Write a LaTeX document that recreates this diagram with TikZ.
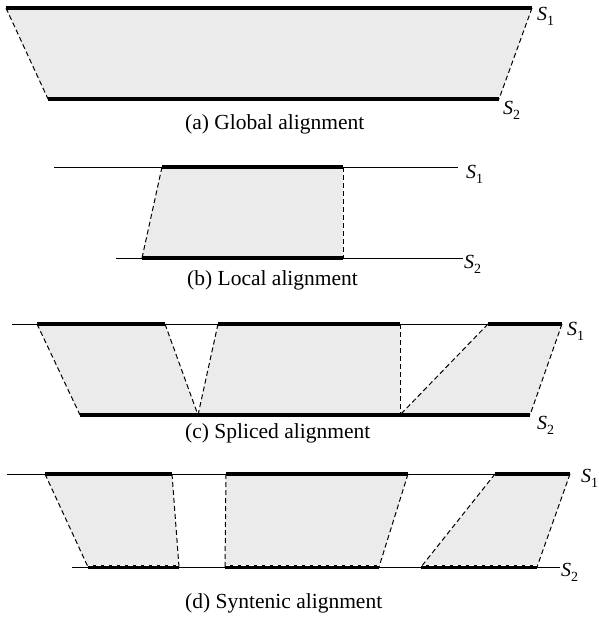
\documentclass[tikz,border=0pt]{standalone}
\usepackage{fontspec}
\setmainfont{Liberation Serif}
\usetikzlibrary{calc}
\definecolor{regiongray}{HTML}{EBEBEB}
\tikzset{
  seqthin/.style={line width=0.9pt},
  seqthick/.style={line width=3.8pt},
  gapline/.style={dash pattern=on 5pt off 3pt, line width=1pt},
  region/.style={fill=regiongray},
  wdash/.style={white, dash pattern=on 5pt off 3pt, line width=0.6pt},
  seqlab/.style={font=\fontsize{20}{22}\selectfont, anchor=west, inner sep=0pt},
  captext/.style={font=\fontsize{21.5}{24}\selectfont, anchor=west, inner sep=0pt},
}
\newcommand{\seqname}[1]{\textit{S}\raisebox{-0.25em}{\fontsize{14}{16}\selectfont #1}}
\begin{document}
\begin{tikzpicture}[x=1pt,y=-1pt]
\useasboundingbox (0,0) rectangle (598,619);

% ---------- (a) Global ----------
\coordinate (a1) at (6,8);   \coordinate (a2) at (532,8);
\coordinate (a3) at (499,99); \coordinate (a4) at (48,99);
\fill[region] (a1) -- (a2) -- (a3) -- (a4) -- cycle;
\draw[seqthick] (a1) -- (a2);
\draw[seqthick] (a4) -- (a3);
\draw[gapline] (a1) -- (a4);
\draw[gapline] (a2) -- (a3);
\node[seqlab] (aS1) at (537,16) {\seqname{1}};
\node[seqlab] (aS2) at (503,110) {\seqname{2}};
\node[captext] (capa) at (185,124) {(a) Global alignment};

% ---------- (b) Local ----------
\coordinate (b1) at (162,167); \coordinate (b2) at (343,167);
\coordinate (b3) at (343,258); \coordinate (b4) at (142,258);
\coordinate (bT0) at (54,167);  \coordinate (bT1) at (458,167);
\coordinate (bB0) at (116,258); \coordinate (bB1) at (463,258);
\fill[region] (b1) -- (b2) -- (b3) -- (b4) -- cycle;
\draw[seqthin] (bT0) -- (bT1);
\draw[seqthin] (bB0) -- (bB1);
\draw[seqthick] (b1) -- (b2);
\draw[seqthick] (b4) -- (b3);
\draw[gapline] (b1) -- (b4);
\draw[gapline] (b2) -- (b3);
\node[seqlab] (bS1) at (466,174) {\seqname{1}};
\node[seqlab] (bS2) at (464,264) {\seqname{2}};
\node[captext] (capb) at (187,280) {(b) Local alignment};

% ---------- (c) Spliced ----------
\coordinate (cT0) at (12,324);
\coordinate (c1) at (37,324);  \coordinate (c2) at (165,324);
\coordinate (c3) at (218,324); \coordinate (c4) at (400,324);
\coordinate (c5) at (488,324); \coordinate (c6) at (562,324);
\coordinate (d1) at (80,415);  \coordinate (d2) at (198,415);
\coordinate (d3) at (400,415); \coordinate (d4) at (530,415);
\fill[region] (c1) -- (c2) -- (d2) -- (d1) -- cycle;
\fill[region] (c3) -- (c4) -- (d3) -- (d2) -- cycle;
\fill[region] (c5) -- (c6) -- (d4) -- (d3) -- cycle;
\draw[seqthin] (cT0) -- (c6);
\draw[seqthick] (c1) -- (c2);
\draw[seqthick] (c3) -- (c4);
\draw[seqthick] (c5) -- (c6);
\draw[seqthick] (d1) -- (d4);
\draw[gapline] (c1) -- (d1);
\draw[gapline] (c2) -- (d2);
\draw[gapline] (c3) -- (d2);
\draw[gapline] (c4) -- (d3);
\draw[gapline] (c5) -- (d3);
\draw[gapline] (c6) -- (d4);
\node[seqlab] (cS1) at (567,331) {\seqname{1}};
\node[seqlab] (cS2) at (537,425) {\seqname{2}};
\node[captext] (capc) at (185,433) {(c) Spliced alignment};

% ---------- (d) Syntenic ----------
\coordinate (eT0) at (7,474);
\coordinate (e1) at (45,474);  \coordinate (e2) at (172,474);
\coordinate (e3) at (226,474); \coordinate (e4) at (408,474);
\coordinate (e5) at (495,474); \coordinate (e6) at (570,474);
\coordinate (fB0) at (72,567); \coordinate (fB1) at (560,567);
\coordinate (f1) at (88,567);  \coordinate (f2) at (179,567);
\coordinate (f3) at (225,567); \coordinate (f4) at (379,567);
\coordinate (f5) at (421,567); \coordinate (f6) at (537,567);
\fill[region] (e1) -- (e2) -- (f2) -- (f1) -- cycle;
\fill[region] (e3) -- (e4) -- (f4) -- (f3) -- cycle;
\fill[region] (e5) -- (e6) -- (f6) -- (f5) -- cycle;
\draw[seqthin] (eT0) -- (e6);
\draw[seqthin] (fB0) -- (fB1);
\draw[seqthick] (e1) -- (e2);
\draw[seqthick] (e3) -- (e4);
\draw[seqthick] (e5) -- (e6);
\draw[seqthick] (f1) -- (f2);
\draw[seqthick] (f3) -- (f4);
\draw[seqthick] (f5) -- (f6);
\draw[wdash] ($(f1)+(0,-1.6)$) -- ($(f2)+(0,-1.6)$);
\draw[wdash] ($(f3)+(0,-1.6)$) -- ($(f4)+(0,-1.6)$);
\draw[wdash] ($(f5)+(0,-1.6)$) -- ($(f6)+(0,-1.6)$);
\draw[gapline] (e1) -- (f1);
\draw[gapline] (e2) -- (f2);
\draw[gapline] (e3) -- (f3);
\draw[gapline] (e4) -- (f4);
\draw[gapline] (e5) -- (f5);
\draw[gapline] (e6) -- (f6);
\node[seqlab] (dS1) at (581,478) {\seqname{1}};
\node[seqlab] (dS2) at (561,572) {\seqname{2}};
\node[captext] (capd) at (185,603) {(d) Syntenic alignment};
\end{tikzpicture}
\end{document}
